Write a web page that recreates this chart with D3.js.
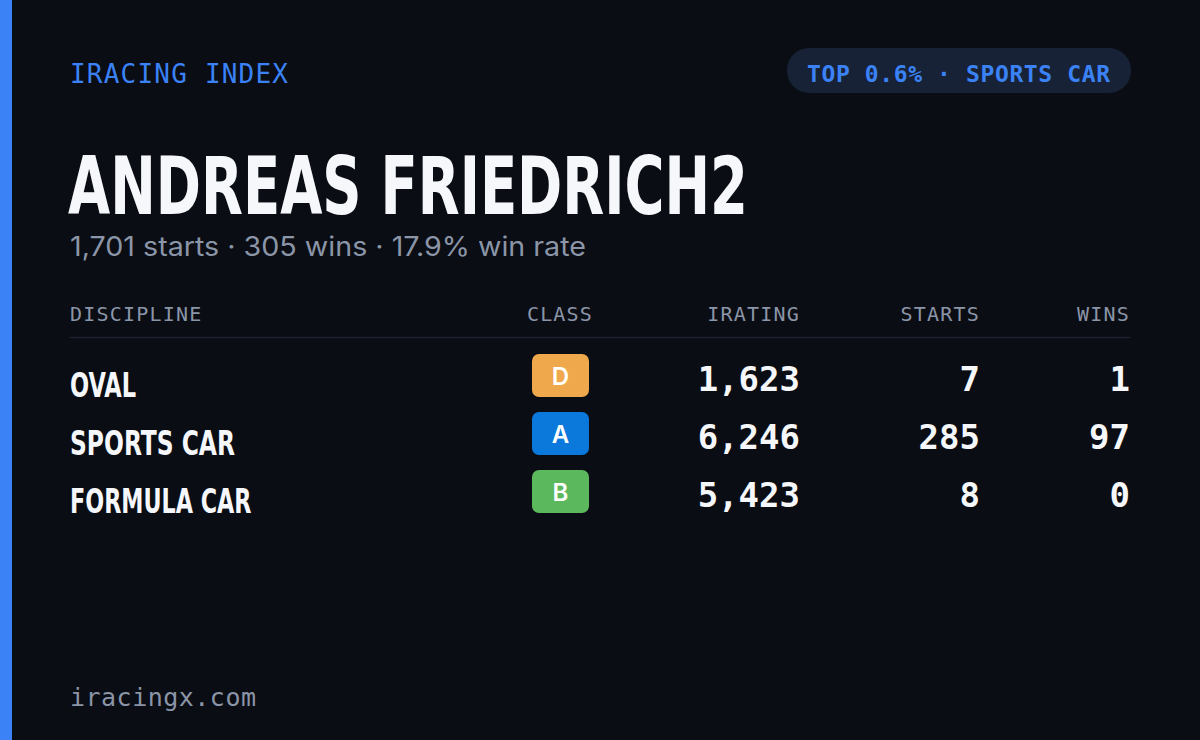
<!DOCTYPE html>
<html><head><meta charset="utf-8">
<script src="https://cdn.jsdelivr.net/npm/d3@7"></script>
<style>body{margin:0;background:#0a0d14}</style>
</head><body><div id="chart"></div>
<script>
// card data
const driver = "ANDREAS FRIEDRICH2";
const summary = "1,701 starts · 305 wins · 17.9% win rate";
const badgeText = "TOP 0.6% · SPORTS CAR";
const columns = ["DISCIPLINE", "CLASS", "IRATING", "STARTS", "WINS"];
const disciplines = ["OVAL", "SPORTS CAR", "FORMULA CAR"];
const classes = ["D", "A", "B"];
const iratings = [1623, 6246, 5423];
const starts = [7, 285, 8];
const wins = [1, 97, 0];

const classColor = {D: "#efa84c", A: "#0b78dc", B: "#5cb85c"};
const width = 1200, height = 740;
const mono = "'DejaVu Sans Mono', monospace";
const cond = "'DejaVu Sans Condensed', 'Liberation Sans Narrow', sans-serif";

const svg = d3.select("#chart").append("svg")
    .attr("width", width).attr("height", height);

svg.append("rect").attr("width", width).attr("height", height).attr("fill", "#0a0d14");
svg.append("rect").attr("width", 12).attr("height", height).attr("fill", "#3b82f6");

svg.append("text").attr("x", 70).attr("y", 83)
    .attr("font-family", mono).attr("font-size", 26).attr("font-weight", 500).attr("fill", "#3b82f6")
    .attr("textLength", 218).text("IRACING INDEX");

// pill
svg.append("rect").attr("x", 787).attr("y", 48).attr("width", 344).attr("height", 45)
    .attr("rx", 22).attr("fill", "#172236");
svg.append("text").attr("x", 807).attr("y", 82)
    .attr("font-family", mono).attr("font-size", 23).attr("font-weight", "bold")
    .attr("fill", "#3b82f6").attr("textLength", 303).text(badgeText);

// tall condensed name: stretched vertically
svg.append("text").attr("transform", "translate(68,214) scale(1,1.15)")
    .attr("font-family", cond).attr("font-size", 70).attr("font-weight", "bold")
    .attr("fill", "#f5f7fa").attr("textLength", 680).attr("lengthAdjust", "spacingAndGlyphs")
    .text(driver);

svg.append("text").attr("x", 70).attr("y", 256)
    .attr("font-family", "Inter, sans-serif").attr("font-size", 27).attr("fill", "#8b95a8")
    .attr("textLength", 516).attr("lengthAdjust", "spacingAndGlyphs").text(summary);

// columns: anchor positions
const colX = [70, 560, 800, 980, 1130];
const colAnchor = ["start", "middle", "end", "end", "end"];

svg.selectAll("text.head").data(columns).join("text").attr("class", "head")
    .attr("x", (d, i) => colX[i]).attr("y", 321).attr("text-anchor", (d, i) => colAnchor[i])
    .attr("font-family", mono).attr("font-size", 20).attr("font-weight", 500).attr("fill", "#8b95a8")
    .attr("letter-spacing", 1.2).text(d => d);

svg.append("line").attr("x1", 70).attr("x2", 1130).attr("y1", 337.5).attr("y2", 337.5)
    .attr("stroke", "#1c2230").attr("stroke-width", 1.5);

const y = d3.scaleBand().domain(disciplines).range([347, 521]).padding(0);

const rows = svg.selectAll("g.row").data(disciplines).join("g").attr("class", "row")
    .attr("transform", d => `translate(0,${y(d)})`);

rows.append("text").attr("x", 70).attr("y", 50)
    .attr("font-family", cond).attr("font-size", 33).attr("font-weight", "bold")
    .attr("fill", "#f5f7fa").attr("textLength", (d) => d.length * 16.5)
    .attr("lengthAdjust", "spacingAndGlyphs").text(d => d);

rows.append("rect").attr("x", 532).attr("y", 7).attr("width", 57).attr("height", 43).attr("rx", 7)
    .attr("fill", (d, i) => classColor[classes[i]]);
rows.append("text").attr("x", 560.5).attr("y", 38).attr("text-anchor", "middle")
    .attr("font-family", "Inter, sans-serif").attr("font-size", 24).attr("font-weight", 600)
    .attr("fill", "#fff").text((d, i) => classes[i]);

const fmt = d3.format(",");
[iratings, starts, wins].forEach((arr, k) => {
  rows.append("text").attr("x", colX[k + 2]).attr("y", 44).attr("text-anchor", "end")
      .attr("font-family", mono).attr("font-size", 34).attr("font-weight", 600)
      .attr("fill", "#f5f7fa").text((d, i) => fmt(arr[i]));
});

svg.append("text").attr("x", 70).attr("y", 706)
    .attr("font-family", mono).attr("font-size", 25).attr("fill", "#8b95a8")
    .attr("textLength", 186).text("iracingx.com");
</script></body></html>
